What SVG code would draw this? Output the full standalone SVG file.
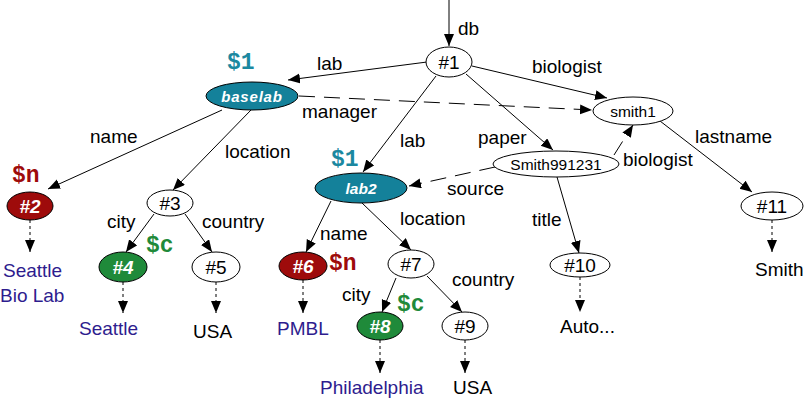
<svg xmlns="http://www.w3.org/2000/svg" width="805" height="400" viewBox="0 0 805 400">
<defs>
<marker id="ah" markerUnits="userSpaceOnUse" markerWidth="13" markerHeight="11" refX="12" refY="5" orient="auto">
<path d="M0,0 L12,5 L0,10 z" fill="#000"/>
</marker>
<style>
.e{stroke:#000;stroke-width:1;marker-end:url(#ah);fill:none}
.d{stroke-dasharray:3,3}
.dl{stroke-dasharray:16,9}
.n{fill:#fff;stroke:#000;stroke-width:1}
.t{font-family:"Liberation Sans",Arial,sans-serif;font-size:19px;fill:#000}
.nt{font-family:"Liberation Sans",Arial,sans-serif;font-size:19px;fill:#000;text-anchor:middle}
.st{font-family:"Liberation Sans",Arial,sans-serif;font-size:15.5px;fill:#000;text-anchor:middle}
.ct{font-family:"Liberation Sans",Arial,sans-serif;font-size:19px;font-weight:bold;font-style:italic;fill:#fff;text-anchor:middle}
.v{font-family:"Nimbus Mono PS","Nimbus Mono L",Courier,FreeMono,"Liberation Mono",monospace;font-size:23px;font-weight:bold}
.teal{fill:#14819a}
.red{fill:#9e0b0b}
.green{fill:#1f8a3a}
.blue{fill:#2e1c8e}
</style>
</defs>
<g id="connectors">
<line class="e" x1="449" y1="0" x2="449" y2="46"/>
<line class="e" x1="427" y1="62" x2="288" y2="80"/>
<line class="e" x1="436" y1="76" x2="363" y2="172"/>
<line class="e" x1="472" y1="66" x2="607" y2="98"/>
<line class="e" x1="466" y1="74" x2="553" y2="150"/>
<line class="e dl" x1="299" y1="96" x2="592" y2="110"/>
<line class="e dl" x1="614" y1="155" x2="633" y2="125"/>
<line class="e dl" x1="495" y1="167" x2="409" y2="186"/>
<line class="e" x1="660" y1="121" x2="752" y2="192"/>
<line class="e" x1="557" y1="177" x2="579" y2="253"/>
<line class="e d" x1="580" y1="277" x2="580" y2="312"/>
<line class="e d" x1="772" y1="220" x2="772" y2="252"/>
<line class="e" x1="222" y1="110" x2="48" y2="189"/>
<line class="e" x1="251" y1="110" x2="173" y2="190"/>
<line class="e d" x1="30" y1="220" x2="30" y2="252"/>
<line class="e" x1="154" y1="214" x2="126" y2="252"/>
<line class="e" x1="185" y1="214" x2="212" y2="252"/>
<line class="e d" x1="123" y1="282" x2="123" y2="313"/>
<line class="e d" x1="216" y1="282" x2="216" y2="313"/>
<line class="e" x1="331" y1="201" x2="306" y2="252"/>
<line class="e" x1="362" y1="203" x2="411" y2="250"/>
<line class="e d" x1="303" y1="280" x2="303" y2="313"/>
<line class="e" x1="396" y1="278" x2="382" y2="312"/>
<line class="e" x1="427" y1="276" x2="462" y2="312"/>
<line class="e d" x1="380" y1="340" x2="380" y2="373"/>
<line class="e d" x1="465" y1="340" x2="465" y2="373"/>
</g>
<g id="edge-labels">
<text class="t" x="458" y="35">db</text>
<text class="t" x="317" y="70">lab</text>
<text class="t" x="532" y="73">biologist</text>
<text class="t" x="302" y="118">manager</text>
<text class="t" x="90" y="143">name</text>
<text class="t" x="225" y="158">location</text>
<text class="t" x="400" y="147">lab</text>
<text class="t" x="478" y="144">paper</text>
<text class="t" x="623" y="166">biologist</text>
<text class="t" x="695" y="143">lastname</text>
<text class="t" x="447" y="195">source</text>
<text class="t" x="320" y="240">name</text>
<text class="t" x="400" y="225">location</text>
<text class="t" x="532" y="226">title</text>
<text class="t" x="107" y="228">city</text>
<text class="t" x="202" y="228">country</text>
<text class="t" x="342" y="301">city</text>
<text class="t" x="452" y="286">country</text>
</g>
<g id="n1"><ellipse class="n" cx="449" cy="62" rx="23" ry="15"/><text class="nt" x="449" y="69">#1</text></g>
<g id="baselab"><ellipse cx="252" cy="96" rx="46" ry="14" class="teal" stroke="#000"/><text class="ct" x="252" y="102" style="font-size:15px;letter-spacing:0.8px">baselab</text><text class="v" x="227" y="69" style="fill:#1b88a0">$1</text></g>
<g id="smith1"><ellipse class="n" cx="633" cy="111" rx="40" ry="14"/><text class="st" x="633" y="117">smith1</text></g>
<g id="smith991231"><ellipse class="n" cx="556" cy="164" rx="63" ry="13"/><text class="st" x="556" y="170">Smith991231</text></g>
<g id="lab2"><ellipse cx="361" cy="188" rx="46" ry="15" class="teal" stroke="#000"/><text class="ct" x="361" y="194" style="font-size:15.5px">lab2</text><text class="v" x="331" y="166" style="fill:#1b88a0">$1</text></g>
<g id="n2"><ellipse cx="30" cy="206" rx="23" ry="14" class="red" stroke="#000"/><text class="ct" x="30" y="213">#2</text><text class="v red" x="12" y="182">$n</text></g>
<g id="n3"><ellipse class="n" cx="170" cy="203" rx="23" ry="13"/><text class="nt" x="170" y="210">#3</text></g>
<g id="n4"><ellipse cx="123" cy="267" rx="24" ry="15" class="green" stroke="#000"/><text class="ct" x="123" y="274">#4</text><text class="v green" x="146" y="252">$c</text></g>
<g id="n5"><ellipse class="n" cx="216" cy="267" rx="24" ry="15"/><text class="nt" x="216" y="274">#5</text></g>
<g id="n6"><ellipse cx="303" cy="266" rx="24" ry="14" class="red" stroke="#000"/><text class="ct" x="303" y="273">#6</text><text class="v red" x="329" y="270">$n</text></g>
<g id="n7"><ellipse class="n" cx="411" cy="264" rx="23" ry="14"/><text class="nt" x="411" y="271">#7</text></g>
<g id="n8"><ellipse cx="380" cy="326" rx="23" ry="14" class="green" stroke="#000"/><text class="ct" x="380" y="333">#8</text><text class="v green" x="397" y="311">$c</text></g>
<g id="n9"><ellipse class="n" cx="465" cy="326" rx="23" ry="14"/><text class="nt" x="465" y="333">#9</text></g>
<g id="n10"><ellipse class="n" cx="580" cy="265" rx="30" ry="12"/><text class="nt" x="580" y="272">#10</text></g>
<g id="n11"><ellipse class="n" cx="772" cy="206" rx="31" ry="14"/><text class="nt" x="772" y="213">#11</text></g>
<g id="values">
<text class="t blue" x="3" y="277">Seattle</text>
<text class="t blue" x="0" y="302">Bio Lab</text>
<text class="t blue" x="79" y="335">Seattle</text>
<text class="t" x="193" y="338">USA</text>
<text class="t blue" x="277" y="335">PMBL</text>
<text class="t blue" x="320" y="394">Philadelphia</text>
<text class="t" x="453" y="394">USA</text>
<text class="t" x="560" y="333">Auto...</text>
<text class="t" x="755" y="276">Smith</text>
</g>
</svg>
